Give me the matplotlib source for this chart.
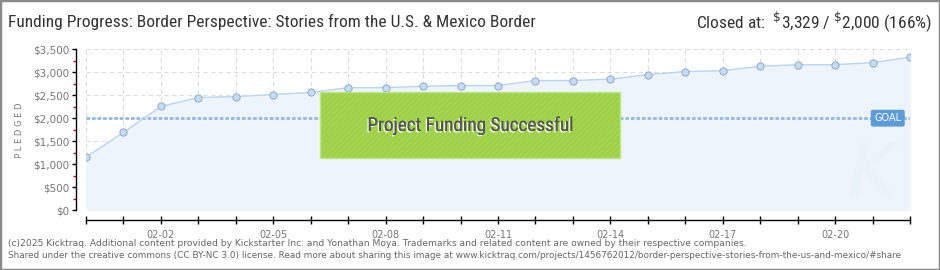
import matplotlib
matplotlib.use("Agg")
import matplotlib.pyplot as plt
from matplotlib import patches, font_manager
import matplotlib.patheffects as pe
from matplotlib.ticker import FixedLocator, FuncFormatter

# ---- data ----
dates = ["01-31", "02-01", "02-02", "02-03", "02-04", "02-05", "02-06", "02-07",
         "02-08", "02-09", "02-10", "02-11", "02-12", "02-13", "02-14", "02-15",
         "02-16", "02-17", "02-18", "02-19", "02-20", "02-21", "02-22"]
pledged = [1150, 1690, 2255, 2450, 2470, 2515, 2560, 2665, 2665, 2695, 2710, 2710,
           2820, 2820, 2850, 2950, 3015, 3035, 3130, 3165, 3165, 3210, 3329]
goal = 2000
yticks = [0, 500, 1000, 1500, 2000, 2500, 3000, 3500]
label_every = 3

title = "Funding Progress: Border Perspective: Stories from the U.S. & Mexico Border"
footer1 = ("(c)2025 Kicktraq. Additional content provided by Kickstarter Inc. and Yonathan Moya. "
           "Trademarks and related content are owned by their respective companies.")
footer2 = ("Shared under the creative commons (CC BY-NC 3.0) license. Read more about sharing this image at "
           "www.kicktraq.com/projects/1456762012/border-perspective-stories-from-the-us-and-mexico/#share")


def pick_font(names):
  # first family that is really installed
  for n in names:
    try:
      font_manager.findfont(n, fallback_to_default=False)
      return n
    except Exception:
      pass
  return "DejaVu Sans"

narrow = pick_font(["Liberation Sans Narrow", "DejaVu Sans Condensed", "Roboto Condensed", "DejaVu Sans"])

fig = plt.figure(figsize=(9.4, 2.7), dpi=100)
W, H = 940.0, 270.0
ax = fig.add_axes([86 / W, (H - 210) / H, (910 - 86) / W, (210 - 49.3) / H])

x = list(range(len(dates)))

# area + line + points
ax.fill_between(x, pledged, 0, color="#edf4fc", zorder=1)
ax.plot(x, pledged, color="#b8d5f2", lw=1.0, zorder=3)
ax.plot(x, pledged, ls="none", marker="o", ms=5.2, mfc="#c4ddf6", mec="#8fa9c9", mew=0.7, zorder=4)

# goal line
ax.axhline(goal, color="#92b9e3", lw=2.0, ls=(0, (1.3, 0.7)), zorder=2)
ax.annotate("GOAL", xy=(0.973, goal), xycoords=("axes fraction", "data"),
            ha="center", va="center", fontsize=7, color="white", zorder=6,
            bbox=dict(boxstyle="round,pad=0.28,rounding_size=0.15", fc="#5b9bd9", ec="#5b9bd9"))

# axes limits / spines
ax.set_xlim(0, len(dates) - 1)
ax.set_ylim(0, 3500)
for s in ["top", "right"]:
  ax.spines[s].set_visible(False)
ax.spines["left"].set_position(("outward", 7.2))
ax.spines["bottom"].set_position(("outward", 7.2))
ax.spines["left"].set_linewidth(1.0)
ax.spines["bottom"].set_linewidth(1.0)

ax.yaxis.set_major_locator(FixedLocator(yticks))
ax.yaxis.set_minor_locator(FixedLocator([v + 250 for v in yticks[:-1]]))
ax.yaxis.set_major_formatter(FuncFormatter(lambda v, p: "${:,.0f}".format(v)))
ax.tick_params(axis="y", which="major", length=3, width=1, color="black",
               labelsize=7.5, labelcolor="#777777", pad=2)
ax.tick_params(axis="y", which="minor", length=2, width=1, color="#dd0000")

ax.xaxis.set_major_locator(FixedLocator(x[2::label_every]))
ax.xaxis.set_minor_locator(FixedLocator(x))
ax.set_xticklabels(dates[2::label_every])
ax.tick_params(axis="x", which="both", direction="inout", length=6, width=1, color="black",
               labelsize=7, labelcolor="#777777", pad=4)

ax.grid(axis="x", which="both", color="#dddddd", lw=0.8, ls=(0, (4, 3)), zorder=0)
ax.grid(axis="y", which="major", color="#dddddd", lw=0.8, ls=(0, (4, 3)), zorder=0)
ax.set_axisbelow(True)

# faint watermark
ax.text(0.955, 0.22, "K", transform=ax.transAxes, fontsize=54, color="#e9f1f9",
        style="italic", ha="center", va="center", zorder=1)

# success banner
ax.add_patch(patches.Rectangle((0.284, 0.324), 0.364, 0.41, transform=ax.transAxes,
                               fc="#a3d64e", ec="#9bcf46", lw=0, hatch="//////", zorder=5))
ax.add_patch(patches.Rectangle((0.284, 0.324), 0.364, 0.41, transform=ax.transAxes,
                               fill=False, ec="#c3e58a", lw=1.0, zorder=5))
ax.text(0.466, 0.523, "Project Funding Successful", transform=ax.transAxes,
        ha="center", va="center", fontsize=13.8, color="#555555", family=narrow, zorder=6,
        path_effects=[pe.withSimplePatchShadow(offset=(-1, -1), shadow_rgbFace="white", alpha=0.9),
                      pe.Normal()])

fig.text(20 / W, 1 - 130 / H, "P L E D G E D", rotation=90, ha="center", va="center",
         fontsize=6, color="#777777")

# header
fig.text(8 / W, 1 - 22 / H, title, ha="left", va="center", fontsize=12.5,
         color="#333333", family=narrow)
fig.text(932 / W, 1 - 22 / H, r"Closed at:  $^{\$}$3,329 / $^{\$}$2,000 (166%)",
         ha="right", va="center", fontsize=12.5, color="#333333", family=narrow)

# footer
fig.text(8 / W, 1 - 243 / H, footer1, ha="left", va="center", fontsize=6.6, color="#666666")
fig.text(8 / W, 1 - 256 / H, footer2, ha="left", va="center", fontsize=6.4, color="#666666")

# frame
fig.add_artist(patches.Rectangle((0, 0), 1, 1, transform=fig.transFigure, fill=False,
                                 ec="#8a8a8a", lw=2.5))

fig.savefig("out.png", dpi=100)
